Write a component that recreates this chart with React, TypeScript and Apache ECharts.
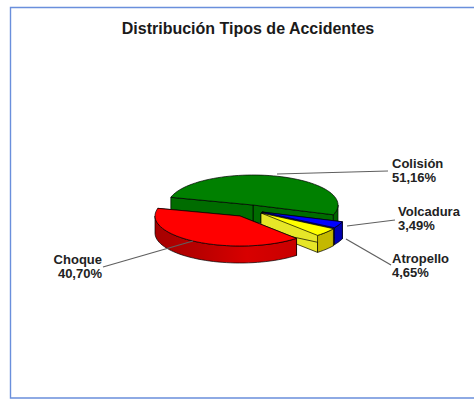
import React, { useEffect, useRef } from "react";
import * as echarts from "echarts";

const titleText = "Distribución Tipos de Accidentes";
const categories = ["Colisión", "Volcadura", "Atropello", "Choque"];
const percentages = [51.16, 3.49, 4.65, 40.7];
const topColors = ["#008000", "#0000ff", "#ffff00", "#ff0000"];
const cutColors = ["#006c00", "#0000c0", "#e6e628", "#cf0000"];
const rimColors = ["#006400", "#0000b4", "#c4b800", "#cf0000"];

// Layout (not data): pie geometry, explosion offsets, label anchors
const CX = 253, CY = 205, RX = 85, RY = 30, DEPTH = 17;
const START_ANGLE = 341; // degrees, math orientation, going counter-clockwise
const offsets = [[0, 0], [9, 7], [8, 8], [-13, 11]];
const labelPos = [
  { x: 392, y: 156, align: "left" },
  { x: 398, y: 204, align: "left" },
  { x: 392, y: 251, align: "left" },
  { x: 102, y: 252, align: "right" },
];
const leaders = [
  [[277, 174], [388, 171]],
  [[347, 226], [395, 220]],
  [[346, 239], [391, 265]],
  [[193, 241], [103, 267]],
];

const rad = (d: number) => (d * Math.PI) / 180;
const pt = (cx: number, cy: number, a: number) => [cx + RX * Math.cos(rad(a)), cy - RY * Math.sin(rad(a))];
const arc = (cx: number, cy: number, a0: number, a1: number) => {
  const n = Math.max(2, Math.ceil(Math.abs(a1 - a0) / 3));
  const out: number[][] = [];
  for (let i = 0; i <= n; i++) out.push(pt(cx, cy, a0 + ((a1 - a0) * i) / n));
  return out;
};

const total = percentages.reduce((a, b) => a + b, 0);
const spans: number[][] = [];
{
  let cur = START_ANGLE - 360;
  // counter-clockwise from the right edge: Colisión first, then Choque, Atropello, Volcadura
  const order = [0, 3, 2, 1];
  order.forEach((i) => {
    const sweep = (percentages[i] / total) * 360;
    spans[i] = [cur, cur + sweep];
    cur += sweep;
  });
}

const edge = "#000000";
const rimFill = (i: number) =>
  i === 3
    ? new echarts.graphic.LinearGradient(0, 0, 1, 0, [
        { offset: 0, color: "#a60000" },
        { offset: 0.3, color: "#b80000" },
        { offset: 0.65, color: "#d80000" },
        { offset: 1, color: "#c80000" },
      ])
    : rimColors[i];

const renderSlice = (params: any, api: any) => {
  const i = api.value(0) as number;
  const [a0, a1] = spans[i];
  const cx = CX + offsets[i][0];
  const cy = CY + offsets[i][1];
  const children: any[] = [];
  const poly = (points: number[][], fill: any) =>
    children.push({ type: "polygon", shape: { points }, style: { fill, stroke: edge, lineWidth: 0.7 } });
  // Cut walls
  [a0, a1].forEach((a) => {
    const p = pt(cx, cy, a);
    poly([[cx, cy], p, [p[0], p[1] + DEPTH], [cx, cy + DEPTH]], cutColors[i]);
  });
  // Rim: only the portions facing the viewer (lower half of the ellipse)
  const lo = Math.max(a0, 180);
  const hi = Math.min(a1, 360);
  const ranges: number[][] = [];
  if (hi > lo) ranges.push([lo, hi]);
  if (a0 < 0) ranges.push([a0 + 360, Math.min(a1 + 360, 360)]);
  ranges.forEach(([b0, b1]) => {
    const t = arc(cx, cy, b0, b1);
    const bottom = t.map(([x, y]) => [x, y + DEPTH]).reverse();
    poly([...t, ...bottom], rimFill(i));
  });
  // Top face
  poly([[cx, cy], ...arc(cx, cy, a0, a1)], topColors[i]);
  return { type: "group", children };
};

const renderLeader = (params: any, api: any) => {
  const i = api.value(0) as number;
  return {
    type: "polyline",
    shape: { points: leaders[i] },
    style: { stroke: "#5f5f5f", lineWidth: 1.2, fill: "none" },
  };
};

const fmt = (v: number) => v.toFixed(2).replace(".", ",") + "%";

export default function App() {
  const ref = useRef<HTMLDivElement>(null);
  useEffect(() => {
    document.body.style.margin = "0";
    const chart = echarts.init(ref.current!, null, { renderer: "svg" });
    const idx = categories.map((_, i) => [i]);
    chart.setOption({
      animation: false,
      backgroundColor: "#ffffff",
      title: {
        text: titleText,
        left: 243,
        top: 15,
        textAlign: "center",
        textStyle: { fontFamily: "Liberation Sans", fontWeight: "bold", fontSize: 16, color: "#1a1a1a" },
      },
      xAxis: { show: false, min: 0, max: 474 },
      yAxis: { show: false, min: 0, max: 401 },
      grid: { left: 0, right: 0, top: 0, bottom: 0 },
      series: [
        // Painter order: back slice first, the exploded front slice last
        { type: "custom", silent: true, renderItem: renderSlice, data: [[0]], z: 2 },
        { type: "custom", silent: true, renderItem: renderSlice, data: [[1]], z: 3 },
        { type: "custom", silent: true, renderItem: renderSlice, data: [[2]], z: 4 },
        { type: "custom", silent: true, renderItem: renderSlice, data: [[3]], z: 5 },
        { type: "custom", silent: true, renderItem: renderLeader, data: idx, z: 6 },
      ],
      graphic: [
        {
          type: "polyline",
          shape: { points: [[474, 7.5], [10.5, 7.5], [10.5, 398], [474, 398]] },
          style: { stroke: "#6a8fdc", lineWidth: 1.4, fill: "none" },
          z: 1,
        },
        ...categories.map((c, i) => ({
          type: "text",
          x: labelPos[i].x,
          y: labelPos[i].y,
          z: 10,
          style: {
            text: c + "\n" + fmt(percentages[i]),
            fontFamily: "Liberation Sans",
            fontWeight: "bold",
            fontSize: 13,
            lineHeight: 14,
            fill: "#222222",
            align: labelPos[i].align,
            verticalAlign: "top",
          },
        })),
      ],
    });
    return () => chart.dispose();
  }, []);
  return <div ref={ref} style={{ width: 474, height: 401 }} />;
}
